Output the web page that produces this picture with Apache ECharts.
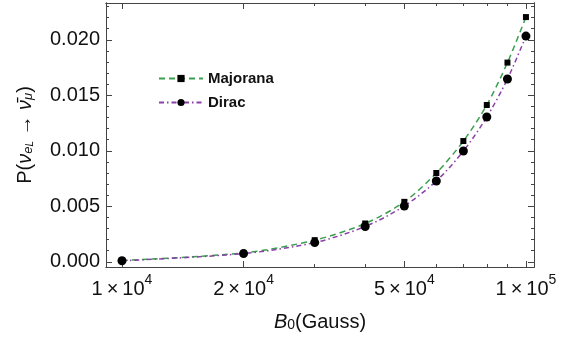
<!DOCTYPE html>
<html>
<head>
<meta charset="utf-8">
<script src="https://cdn.jsdelivr.net/npm/echarts@6/dist/echarts.min.js"></script>
<style>
html, body { margin: 0; padding: 0; background: #fff; }
#chart { width: 572px; height: 341px; }
</style>
</head>
<body>
<div id="chart"></div>
<script>
// Magnetic field strength B0 in Gauss
const fieldGauss = [10000, 20000, 30000, 40000, 50000, 60000, 70000, 80000, 90000, 100000];
// Transition probability P(nu_eL -> anti-nu_mu)
const majorana = [0.00012, 0.00080, 0.00195, 0.00345, 0.00540, 0.00800, 0.01088, 0.01413, 0.01795, 0.02205];
const dirac    = [0.00009, 0.00074, 0.00173, 0.00318, 0.00503, 0.00728, 0.00998, 0.01305, 0.01647, 0.02034];

const xMajorTicks = [10000, 20000, 50000, 100000];
const xMinorTicks = [30000, 40000, 60000, 70000, 80000, 90000];
const yMajorTicks = [0, 0.005, 0.010, 0.015, 0.020];
const yMinorTicks = [0.001, 0.002, 0.003, 0.004, 0.006, 0.007, 0.008, 0.009,
                     0.011, 0.012, 0.013, 0.014, 0.016, 0.017, 0.018, 0.019, 0.021, 0.022, 0.023];

const X_MIN = 9130, X_MAX = 104700;
const Y_MIN = -0.00047, Y_MAX = 0.02332;
const FONT = '"Liberation Sans", Arial, sans-serif';
const AXIS_COLOR = '#444';

function sciLabel(v) {
  const e = Math.floor(Math.log10(v) + 1e-9);
  const m = Math.round(v / Math.pow(10, e));
  return '{b|' + m + '\u2009×\u200910}{s|' + e + '}';
}

function xAxisDef(position, ticks, len, showLabel) {
  return {
    type: 'log', logBase: 10, min: X_MIN, max: X_MAX, position: position,
    axisLine: { show: true, onZero: false, lineStyle: { color: AXIS_COLOR, width: 1 } },
    axisTick: { show: true, inside: true, length: len, customValues: ticks,
                lineStyle: { color: AXIS_COLOR, width: 1 } },
    axisLabel: showLabel ? {
      show: true, customValues: xMajorTicks, margin: 6, formatter: sciLabel,
      rich: {
        b: { fontFamily: FONT, fontSize: 20, color: '#111', lineHeight: 26, verticalAlign: 'bottom' },
        s: { fontFamily: FONT, fontSize: 14, color: '#111', lineHeight: 26, verticalAlign: 'top' }
      }
    } : { show: false },
    splitLine: { show: false }, minorTick: { show: false }
  };
}

function yAxisDef(position, ticks, len, showLabel) {
  return {
    type: 'value', min: Y_MIN, max: Y_MAX, position: position,
    axisLine: { show: true, onZero: false, lineStyle: { color: AXIS_COLOR, width: 1 } },
    axisTick: { show: true, inside: true, length: len, customValues: ticks,
                lineStyle: { color: AXIS_COLOR, width: 1 } },
    axisLabel: showLabel ? {
      show: true, customValues: yMajorTicks, margin: 6,
      fontFamily: FONT, fontSize: 20, color: '#111',
      formatter: v => v.toFixed(3)
    } : { show: false },
    splitLine: { show: false }
  };
}

const xAxes = [
  xAxisDef('bottom', xMajorTicks, 6, true),
  xAxisDef('bottom', xMinorTicks, 3, false),
  xAxisDef('top', xMajorTicks, 6, false),
  xAxisDef('top', xMinorTicks, 3, false)
];
xAxes[0].name = '{i|B}{sub|0}{n|(Gauss)}';
xAxes[0].nameLocation = 'middle';
xAxes[0].nameGap = 39;
xAxes[0].nameTextStyle = {
  rich: {
    i: { fontFamily: FONT, fontSize: 20, fontStyle: 'italic', color: '#111', lineHeight: 26, verticalAlign: 'bottom' },
    sub: { fontFamily: FONT, fontSize: 14, color: '#111', lineHeight: 20, verticalAlign: 'bottom' },
    n: { fontFamily: FONT, fontSize: 20, color: '#111', lineHeight: 26, verticalAlign: 'bottom' }
  }
};

const yAxes = [
  yAxisDef('left', yMajorTicks, 6, true),
  yAxisDef('left', yMinorTicks, 3, false),
  yAxisDef('right', yMajorTicks, 6, false),
  yAxisDef('right', yMinorTicks, 3, false)
];
yAxes[0].name = '{n|P(}{g|ν}{sub|e}{ss|L}{n| → }{g|ν̄}{sub|μ}{n|)}';
yAxes[0].nameLocation = 'middle';
yAxes[0].nameRotate = 90;
yAxes[0].nameGap = 71;
yAxes[0].nameTextStyle = {
  rich: {
    n: { fontFamily: FONT, fontSize: 20, color: '#111', lineHeight: 26, verticalAlign: 'bottom' },
    g: { fontFamily: FONT, fontSize: 20, fontStyle: 'italic', color: '#111', lineHeight: 26, verticalAlign: 'bottom' },
    sub: { fontFamily: FONT, fontSize: 13, fontStyle: 'italic', color: '#111', lineHeight: 20, verticalAlign: 'bottom' },
    ss: { fontFamily: FONT, fontSize: 10, fontStyle: 'italic', color: '#111', lineHeight: 16, verticalAlign: 'bottom' }
  }
};

const chart = echarts.init(document.getElementById('chart'), null, { renderer: 'canvas' });
chart.setOption({
  animation: false,
  backgroundColor: '#fff',
  grid: { left: 106, right: 38, top: 3, bottom: 74, containLabel: false, outerBoundsMode: 'none' },
  legend: {
    orient: 'vertical', left: 153, top: 66, itemWidth: 44, itemHeight: 9, itemGap: 9,
    textStyle: { fontFamily: FONT, fontSize: 15, fontWeight: 'bold', color: '#111' },
    data: ['Majorana', 'Dirac']
  },
  xAxis: xAxes,
  yAxis: yAxes,
  series: [
    {
      name: 'Majorana', type: 'line', xAxisIndex: 0, yAxisIndex: 0,
      data: fieldGauss.map((x, i) => [x, majorana[i]]),
      smooth: 0.3, symbol: 'rect', symbolSize: 6,
      itemStyle: { color: '#000' },
      lineStyle: { color: '#3c9f4f', width: 1.5, type: [6, 4] }
    },
    {
      name: 'Dirac', type: 'line', xAxisIndex: 0, yAxisIndex: 0,
      data: fieldGauss.map((x, i) => [x, dirac[i]]),
      smooth: 0.3, symbol: 'circle', symbolSize: 9,
      itemStyle: { color: '#000' },
      lineStyle: { color: '#8a40a8', width: 1.5, type: [5, 3, 1.5, 3] }
    }
  ]
});
</script>
</body>
</html>
